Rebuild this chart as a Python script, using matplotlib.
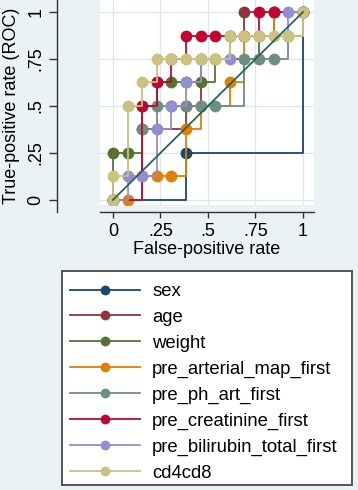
import matplotlib.pyplot as plt

plt.rcParams['font.family'] = ['Liberation Sans', 'DejaVu Sans']

# Constants
FIG_SIZE = (3.58, 4.90)
DPI = 100
BG = "#eaf2f3"
GRID = "#dfe6ea"
AXIS = "#333333"
FONT = 13

# ROC points (false-positive rate, true-positive rate)
SEX_FPR = [0, .385, 1]
SEX_TPR = [0, .25, 1]
AGE_FPR = [0, .154, .385, .462, .615, .692, 1]
AGE_TPR = [0, .375, .5, .75, .875, 1, 1]
WEIGHT_FPR = [0, 0, .077, .154, .231, .308, .385, .462, .538, .769, .846, 1]
WEIGHT_TPR = [0, .25, .25, .5, .625, .625, .625, .625, .75, .875, 1, 1]
MAP_FPR = [0, .077, .154, .231, .308, .385, .462, .615, .692, .846, 1]
MAP_TPR = [0, 0, .125, .125, .125, .375, .5, .625, .875, 1, 1]
PH_FPR = [0, .154, .231, .308, .385, .462, .538, .692, .769, .846, .923, 1]
PH_TPR = [0, .375, .5, .5, .5, .5, .5, .75, .75, .75, .875, 1]
CREAT_FPR = [0, .154, .231, .308, .385, .462, .538, .692, .769, .846, 1]
CREAT_TPR = [0, .5, .625, .75, .875, .875, .875, .875, 1, 1, 1]
BILI_FPR = [0, .077, .154, .231, .308, .385, .462, .615, .615, .923, 1]
BILI_TPR = [0, .125, .125, .375, .5, .625, .75, .75, .875, 1, 1]
CD4_FPR = [0, 0, .077, .154, .231, .308, .385, .462, .538, .615, .692, .769, .846, .923, 1]
CD4_TPR = [0, .125, .5, .625, .75, .75, .75, .75, .75, .875, .875, .875, .875, .875, 1]
REF_LINE = [0, 1]

LABELS = ["sex", "age", "weight", "pre_arterial_map_first", "pre_ph_art_first",
          "pre_creatinine_first", "pre_bilirubin_total_first", "cd4cd8"]
COLORS = ["#1a476f", "#90353b", "#55752f", "#e37e00", "#6e8e84",
          "#c10534", "#938dd2", "#cac27e"]
SERIES = [(SEX_FPR, SEX_TPR), (AGE_FPR, AGE_TPR), (WEIGHT_FPR, WEIGHT_TPR),
          (MAP_FPR, MAP_TPR), (PH_FPR, PH_TPR), (CREAT_FPR, CREAT_TPR),
          (BILI_FPR, BILI_TPR), (CD4_FPR, CD4_TPR)]
TICKS = [0, .25, .5, .75, 1]
TICK_LABELS = ["0", ".25", ".5", ".75", "1"]

fig = plt.figure(figsize=FIG_SIZE, dpi=DPI, facecolor=BG)
ax = fig.add_axes([100 / 358, 285 / 490, 214 / 358, 205 / 490], facecolor="white")

handles = []
for (fpr, tpr), col, lab in zip(SERIES, COLORS, LABELS):
    ln, = ax.plot(fpr, tpr, drawstyle="steps-post", color=col, lw=1.3,
                  marker="o", ms=8.5, mew=0, label=lab, zorder=3)
    handles.append(ln)
ax.plot(REF_LINE, REF_LINE, color="#23655a", lw=1.3, zorder=4)

ax.set_xlim(-0.068, 1.058)
ax.set_ylim(-0.027, 1.064)
ax.set_xticks(TICKS, TICK_LABELS)
ax.set_yticks(TICKS, TICK_LABELS)
ax.grid(True, color=GRID, lw=0.9, zorder=0)
ax.set_axisbelow(True)

for s in ["top", "right"]:
    ax.spines[s].set_visible(False)
ax.spines["left"].set_position(("outward", 31))
ax.spines["bottom"].set_position(("outward", 5))
for s in ["left", "bottom"]:
    ax.spines[s].set_color(AXIS)
    ax.spines[s].set_linewidth(1.0)
ax.spines["left"].set_bounds(-0.064, 1.064)

ax.tick_params(axis="y", length=6, width=1, color=AXIS, pad=3,
               labelsize=FONT, labelrotation=90)
ax.tick_params(axis="x", length=4, width=1, color=AXIS, pad=4, labelsize=FONT)
for lbl in ax.get_yticklabels():
    lbl.set_va("center")

fig.text(12 / 358, 1 - 106 / 490, "True-positive rate (ROC)", rotation=90,
         ha="center", va="center", fontsize=FONT)
fig.text(207 / 358, 1 - 250 / 490, "False-positive rate",
         ha="center", va="center", fontsize=FONT)

# Legend box
lax = fig.add_axes([62 / 358, 5 / 490, 290 / 358, 214 / 490], facecolor="white")
lax.set_xticks([])
lax.set_yticks([])
for s in lax.spines.values():
    s.set_color("#555555")
    s.set_linewidth(1.4)
lax.legend(handles=handles, loc="upper left", bbox_to_anchor=(8 / 290, 1 - 12 / 214),
           frameon=False, fontsize=13.3, handlelength=3.8, handletextpad=0.65,
           labelspacing=0.48, markerscale=0.83, borderaxespad=0, borderpad=0)

fig.savefig("out.png", dpi=DPI, facecolor=BG)
